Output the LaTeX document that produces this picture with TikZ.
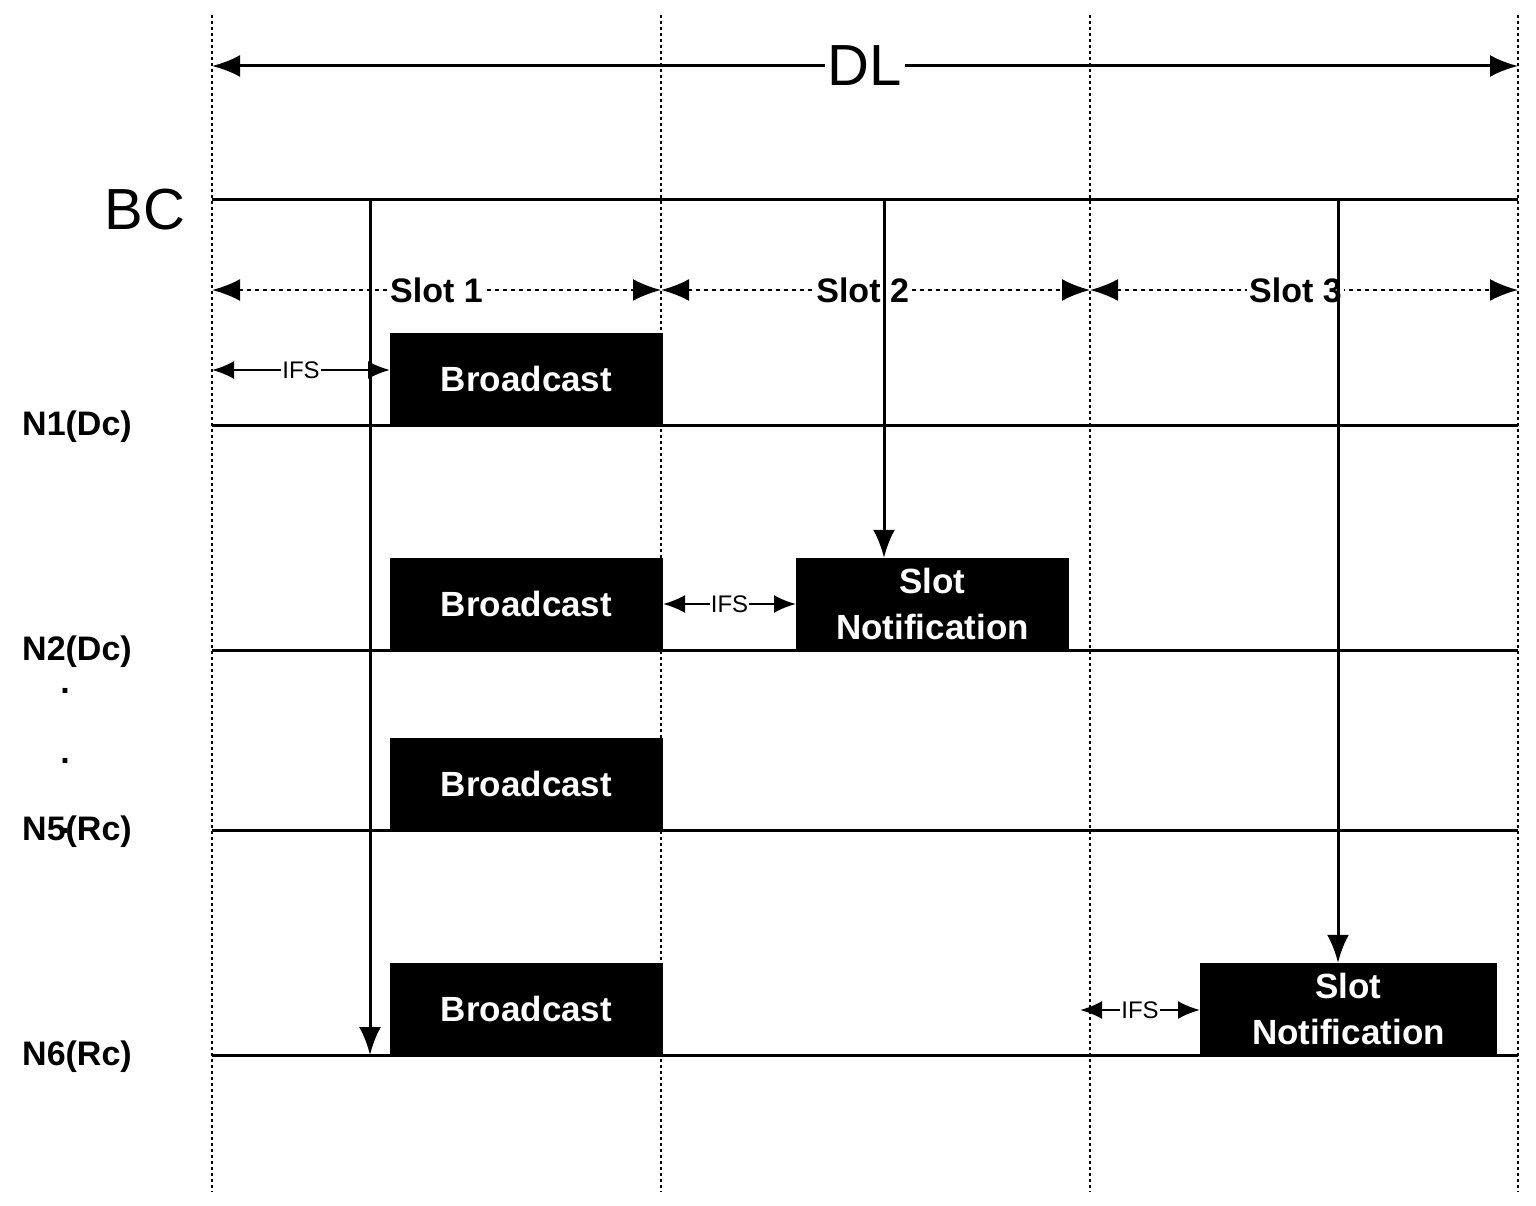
\documentclass[tikz,border=0pt]{standalone}
\usepackage{fontspec}
\setmainfont{Liberation Sans}
\usetikzlibrary{arrows.meta}
\begin{document}
\begin{tikzpicture}[x=1pt,y=-1pt,
  tl/.style={line width=3pt},
  vd/.style={line width=2pt,dash pattern=on 3pt off 3pt},
  arr/.style={line width=3pt,-{Latex[length=28pt,width=22pt]}},
  darr/.style={line width=3pt,{Latex[length=28pt,width=22pt]}-{Latex[length=28pt,width=22pt]}},
  sarr/.style={line width=2.5pt,dash pattern=on 4pt off 4pt,{Latex[length=28pt,width=22pt]}-{Latex[length=28pt,width=22pt]}},
  iarr/.style={line width=2.5pt,{Latex[length=22pt,width=18pt]}-{Latex[length=22pt,width=18pt]}},
  box/.style={fill=black,text=white,font=\fontsize{35}{46}\selectfont\bfseries,align=center,inner sep=0pt},
  lab/.style={font=\fontsize{34}{38}\selectfont\bfseries},
  slot/.style={fill=white,inner sep=2pt,font=\fontsize{34}{38}\selectfont\bfseries},
  ifs/.style={fill=white,inner sep=1pt,font=\fontsize{24}{26}\selectfont}]
\useasboundingbox (0,0) rectangle (1536,1206);
\foreach \x/\n in {212/a,661/b,1090/c,1518/d}{
  \coordinate (\n t) at (\x,15); \coordinate (\n b) at (\x,1192);
  \draw[vd] (\n t) -- (\n b);}
\coordinate (dl1) at (212,66); \coordinate (dl2) at (1518,66);
\draw[darr] (dl1) -- (dl2) node[midway,fill=white,inner sep=3pt,font=\fontsize{58}{62}\selectfont] (DL) {DL};
\coordinate (bc1) at (212,200); \coordinate (bc2) at (1518,200);
\draw[tl] (bc1) -- (bc2);
\node[font=\fontsize{58}{62}\selectfont] (BC) at (145,210) {BC};
% vertical arrows
\coordinate (v1t) at (370,200); \coordinate (v1b) at (370,1055);
\draw[arr] (v1t) -- (v1b);
\coordinate (v2t) at (884,200);
\coordinate (v3t) at (1338,200);
% slots
\coordinate (s0) at (212,290); \coordinate (s1) at (661,290);
\coordinate (s2) at (1090,290); \coordinate (s3) at (1518,290);
\draw[sarr] (s0) -- (s1) node[pos=0.5,slot] (sl1) {Slot 1};
\draw[sarr] (s1) -- (s2) node[pos=0.47,slot] (sl2) {Slot 2};
\draw[sarr] (s2) -- (s3) node[pos=0.48,slot] (sl3) {Slot 3};
\foreach \y/\n/\t in {425/n1/N1(Dc),650/n2/N2(Dc),830/n5/N5(Rc),1055/n6/N6(Rc)}{
  \coordinate (\n l) at (212,\y); \coordinate (\n r) at (1518,\y);
  \draw[tl] (\n l) -- (\n r);
  \node[lab] (\n lab) at (77,\y+2) {\t};}
\foreach \y/\n in {705/d1,775/d2,845/d3}{\node[lab] (\n) at (65,\y-14) {.};}
\node[box,minimum width=273pt,minimum height=92pt] (b1) at (526.5,379) {Broadcast};
\node[box,minimum width=273pt,minimum height=92pt] (b2) at (526.5,604) {Broadcast};
\node[box,minimum width=273pt,minimum height=92pt] (b5) at (526.5,784) {Broadcast};
\node[box,minimum width=273pt,minimum height=92pt] (b6) at (526.5,1009) {Broadcast};
\node[box,minimum width=273pt,minimum height=92pt] (sn2) at (932.5,604) {Slot\\Notification};
\node[box,minimum width=297pt,minimum height=92pt] (sn6) at (1348.5,1009) {Slot\\Notification};
\draw[arr] (v2t) -- (v2t |- sn2.north);
\draw[arr] (v3t) -- (v3t |- sn6.north);
\coordinate (i1a) at (212,370); \coordinate (i1b) at (390,370);
\draw[iarr] (i1a) -- (i1b) node[midway,ifs] (ifs1) {IFS};
\coordinate (i2a) at (663,604); \coordinate (i2b) at (796,604);
\draw[iarr] (i2a) -- (i2b) node[midway,ifs] (ifs2) {IFS};
\coordinate (i6a) at (1080,1010); \coordinate (i6b) at (1200,1010);
\draw[iarr] (i6a) -- (i6b) node[midway,ifs] (ifs6) {IFS};
\end{tikzpicture}
\end{document}
